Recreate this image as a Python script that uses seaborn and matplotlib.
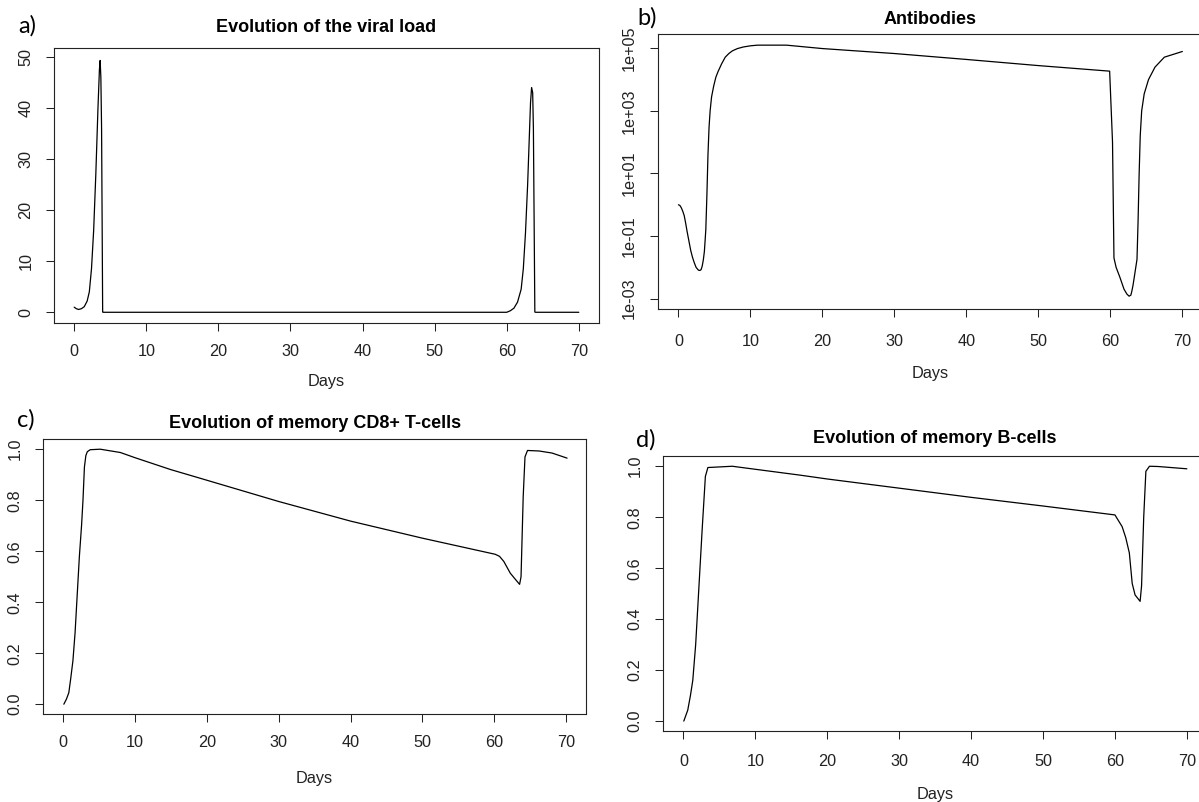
import numpy as np
import matplotlib
matplotlib.use("Agg")
import matplotlib.pyplot as plt
import seaborn as sns
from matplotlib.ticker import NullLocator

# values
days_virus = [0, 0.3, 0.6, 1.0, 1.4, 1.8, 2.1, 2.4, 2.7, 3.0, 3.3, 3.5, 3.6, 3.7, 3.8, 3.95, 4.0,
              60.0, 60.5, 61.0, 61.5, 62.0, 62.3, 62.6, 62.9, 63.1, 63.3, 63.45, 63.6, 63.7, 63.9, 64.0, 70.0]
virus = [1.0, 0.7, 0.55, 0.7, 1.1, 2.2, 4.0, 8.5, 16, 27, 40, 47.5, 49.3, 46, 36, 0.05, 0,
         0, 0.3, 0.8, 2.0, 4.5, 8.5, 15.5, 25, 33, 41, 44, 43, 36, 0.05, 0, 0]

days_ab = [0, 0.2, 0.4, 0.6, 0.8, 1.0, 1.2, 1.45, 1.7, 1.95, 2.2, 2.45, 2.7, 2.85, 3.0, 3.15, 3.3,
           3.45, 3.6, 3.7, 3.8, 3.95, 4.1, 4.25, 4.4, 4.6, 4.9, 5.2, 5.5, 6.0, 6.5, 7.0, 7.5, 8.2,
           9.0, 10.0, 11.0, 15.0, 20.0, 30.0, 40.0, 50.0, 59.9, 60.3, 60.5, 60.8, 61.3, 61.9,
           62.3, 62.6, 62.85, 63.0, 63.15, 63.3, 63.5, 63.7, 63.85, 64.0, 64.15, 64.35, 64.7,
           65.3, 66.2, 67.5, 70.0]
antibodies = [1.0, 0.95, 0.8, 0.62, 0.45, 0.26, 0.14, 0.07, 0.035, 0.021, 0.014, 0.01, 0.0085,
              0.008, 0.008, 0.0085, 0.011, 0.017, 0.032, 0.07, 0.16, 2.0, 40, 300, 1000, 2800,
              6300, 1.2e4, 1.8e4, 3.2e4, 5.2e4, 6.8e4, 8.3e4, 9.8e4, 1.1e5, 1.2e5, 1.26e5,
              1.26e5, 9.8e4, 6.8e4, 4.4e4, 2.8e4, 1.86e4, 100, 0.02, 0.01, 0.005, 0.002, 0.0014,
              0.0012, 0.0013, 0.0018, 0.0027, 0.0045, 0.009, 0.018, 0.3, 10, 160, 1000, 3500,
              1e4, 2.5e4, 5.2e4, 7.9e4]

days_cd8 = [0.14, 0.5, 0.83, 1.07, 1.4, 1.7, 2.0, 2.3, 2.6, 2.8, 3.0, 3.2, 3.4, 3.8, 5.2, 8.0, 10.0,
            15.0, 19.1, 30.0, 40.0, 50.0, 60.1, 60.7, 61.3, 62.2, 62.9, 63.5, 63.7, 64.0, 64.25,
            64.6, 66.2, 68.0, 70.1]
cd8 = [0.0, 0.02, 0.045, 0.095, 0.17, 0.28, 0.43, 0.58, 0.70, 0.80, 0.93, 0.975, 0.99, 0.998,
       1.0, 0.987, 0.967, 0.92, 0.886, 0.795, 0.718, 0.651, 0.588, 0.58, 0.56, 0.514, 0.49, 0.47,
       0.50, 0.814, 0.97, 0.995, 0.993, 0.985, 0.965]

days_bcell = [0.05, 0.6, 0.97, 1.3, 1.7, 2.1, 2.6, 3.05, 3.4, 6.8, 8.4, 16.25, 20.0, 30.0, 40.0,
              50.0, 60.0, 61.0, 61.5, 62.0, 62.4, 62.8, 63.5, 63.7, 64.0, 64.3, 64.8, 66.0, 70.0]
bcell = [0.0, 0.043, 0.10, 0.16, 0.30, 0.50, 0.75, 0.96, 0.995, 1.0, 0.994, 0.965, 0.95, 0.914,
         0.878, 0.844, 0.809, 0.763, 0.72, 0.66, 0.54, 0.495, 0.47, 0.53, 0.80, 0.98, 1.0, 0.999,
         0.99]

day_ticks = [0, 10, 20, 30, 40, 50, 60, 70]
virus_ticks = [0, 10, 20, 30, 40, 50]
ab_ticks = [1e-3, 1e-1, 1e1, 1e3, 1e5]
ab_labels = ["1e-03", "1e-01", "1e+01", "1e+03", "1e+05"]
frac_ticks = [0.0, 0.2, 0.4, 0.6, 0.8, 1.0]
frac_labels = ["0.0", "0.2", "0.4", "0.6", "0.8", "1.0"]

sns.set_theme(style="ticks")
plt.rcParams["font.family"] = ["Liberation Sans", "DejaVu Sans"]

W, H = 1199, 802
fig = plt.figure(figsize=(W / 100, H / 100), dpi=100)


def px_axes(l, t, r, b):
    return fig.add_axes([l / W, 1 - b / H, (r - l) / W, (b - t) / H])


def style_axes(ax, title, title_pad, xpad, ypad, label_y):
    ax.set_xlim(-2.8, 72.8)
    ax.set_xticks(day_ticks)
    ax.set_xticklabels([str(d) for d in day_ticks])
    for s in ax.spines.values():
        s.set_visible(True)
        s.set_color("#222222")
        s.set_linewidth(0.8)
    ax.tick_params(axis="both", direction="out", length=6.1, width=0.75, color="#222222",
                   labelsize=11.7, labelcolor="#222222")
    ax.tick_params(axis="x", pad=xpad)
    ax.tick_params(axis="y", pad=ypad)
    for lab in ax.get_yticklabels():
        lab.set_rotation(90)
        lab.set_va("center")
    ax.set_title(title, fontsize=13, fontweight="bold", pad=title_pad, color="black")
    ax.set_xlabel("Days", fontsize=11.7, color="#222222", va="baseline")
    ax.xaxis.set_label_coords(0.5, label_y)
    ax.set_ylabel("")


# a) viral load
ax_a = px_axes(54, 47.7, 599, 322.7)
sns.lineplot(x=days_virus, y=virus, ax=ax_a, color="black", linewidth=0.9,
             estimator=None, sort=False)
ax_a.set_ylim(-2.04, 51.8)
ax_a.set_yticks(virus_ticks)
ax_a.set_yticklabels([str(v) for v in virus_ticks])
style_axes(ax_a, "Evolution of the viral load", 11.3, 8.9, 8.8, -(386 - 322.7) / 275)

# b) antibodies
ax_b = px_axes(658.3, 34.3, 1202.5, 309.3)
sns.lineplot(x=days_ab, y=antibodies, ax=ax_b, color="black", linewidth=0.9,
             estimator=None, sort=False)
ax_b.set_yscale("log")
ax_b.set_ylim(10 ** -3.34, 10 ** 5.447)
ax_b.set_yticks(ab_ticks)
ax_b.set_yticklabels(ab_labels)
ax_b.yaxis.set_minor_locator(NullLocator())
style_axes(ax_b, "Antibodies", 7.4, 12.0, 9.5, -(378 - 309.3) / 275)

# c) memory CD8+ T-cells
ax_c = px_axes(42.7, 439, 586.5, 714.4)
sns.lineplot(x=days_cd8, y=cd8, ax=ax_c, color="black", linewidth=0.9,
             estimator=None, sort=False)
ax_c.set_ylim(-0.04, 1.04)
ax_c.set_yticks(frac_ticks)
ax_c.set_yticklabels(frac_labels)
style_axes(ax_c, "Evolution of memory CD8+ T-cells", 7.9, 8.6, 8.4, -(783 - 714.4) / 275.4)

# d) memory B-cells
ax_d = px_axes(663.3, 455.8, 1207, 731.3)
sns.lineplot(x=days_bcell, y=bcell, ax=ax_d, color="black", linewidth=0.9,
             estimator=None, sort=False)
ax_d.set_ylim(-0.04, 1.041)
ax_d.set_yticks(frac_ticks)
ax_d.set_yticklabels(frac_labels)
style_axes(ax_d, "Evolution of memory B-cells", 9.2, 10.6, 9.0, -(799 - 731.3) / 275.5)

# panel letters
for letter, x, y in [("a)", 18, 26), ("b)", 637, 18), ("c)", 17, 420), ("d)", 636, 440)]:
    fig.text(x / W, 1 - y / H, letter, fontsize=17, family=["Lato", "DejaVu Sans"],
             ha="left", va="center", color="black")

fig.savefig("out.png", dpi=100)
